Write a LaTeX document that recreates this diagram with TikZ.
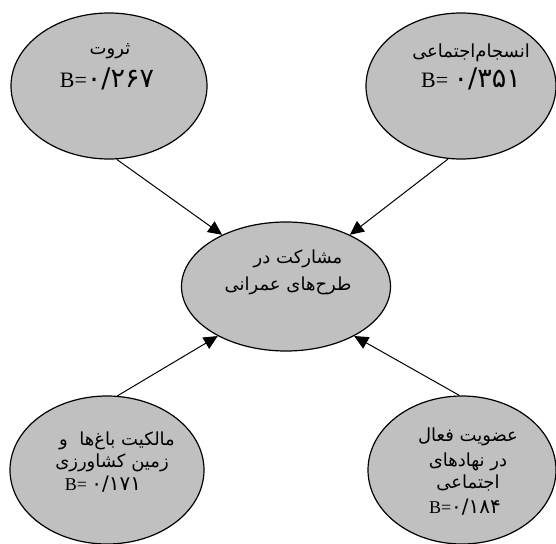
\documentclass[tikz,border=0pt]{standalone}
\usepackage{fontspec}
\setmainfont{Liberation Serif}
\newfontfamily\fa[Script=Arabic]{DejaVu Sans}
\TeXXeTstate=1
\usetikzlibrary{shapes.geometric,arrows.meta}
\definecolor{bubgray}{HTML}{C0C0C0}
\newcommand\arsz{\fontsize{18}{22}\selectfont}
\newcommand\bsz{\fontsize{22}{22}\selectfont}
\newcommand\tdsz{\fontsize{27}{22}\selectfont}
\newcommand\bssz{\fontsize{18}{22}\selectfont}
\newcommand\dsz{\fontsize{20}{22}\selectfont}
\tikzset{
  bub/.style={ellipse, draw=black, line width=1.2pt, fill=bubgray, inner sep=0pt},
  arr/.style={-{Triangle[length=14pt,width=13pt]}, line width=1pt},
  ln/.style={anchor=base, inner sep=0pt},
  ar/.style={ln, font=\fa\arsz},
}
\begin{document}
\begin{tikzpicture}[x=1pt,y=-1pt]
\useasboundingbox (0,0) rectangle (556,543);
\node[bub, minimum width=196pt, minimum height=146pt] (tl) at (109,86) {};
\node[bub, minimum width=190pt, minimum height=146pt] (tr) at (461,86) {};
\node[bub, minimum width=209pt, minimum height=129pt] (c) at (286,286.5) {};
\node[bub, minimum width=194pt, minimum height=148pt] (bl) at (107,470) {};
\node[bub, minimum width=188pt, minimum height=148pt] (br) at (462,470) {};

\node[ar] (tl1) at (110,55) {\beginR ثروت\endR};
\node[ln] (tl2) at (107,87) {\bsz B=\fa\tdsz ۰/۲۶۷};
\node[ar] (tr1) at (471,57) {\beginR انسجام‌اجتماعی\endR};
\node[ln] (tr2) at (471,87) {\bsz B= \fa\tdsz ۰/۳۵۱};
\node[ar] (c1) at (298,263) {\beginR مشارکت در\endR};
\node[ar] (c2) at (288,290) {\beginR طرح‌های عمرانی\endR};
\node[ar] (bl1) at (117,445) {\beginR مالکیت باغ‌ها\ \ و\endR};
\node[ar] (bl2) at (112,467) {\beginR زمین کشاورزی\endR};
\node[ln] (bl3) at (103,490) {\bssz B= \fa\dsz ۰/۱۷۱};
\node[ar] (br1) at (468,441) {\beginR عضویت فعال\endR};
\node[ar] (br2) at (468,466) {\beginR در نهادهای\endR};
\node[ar] (br3) at (468,488) {\beginR اجتماعی\endR};
\node[ln] (br4) at (465,513) {\bssz B=\fa\dsz ۰/۱۸۴};

\draw[arr] (tl.-84) -- (c.141);
\draw[arr] (tr.-100) -- (c.39);
\draw[arr] (bl.82) -- (c.216);
\draw[arr] (br.92) -- (c.-36);
\end{tikzpicture}
\end{document}
